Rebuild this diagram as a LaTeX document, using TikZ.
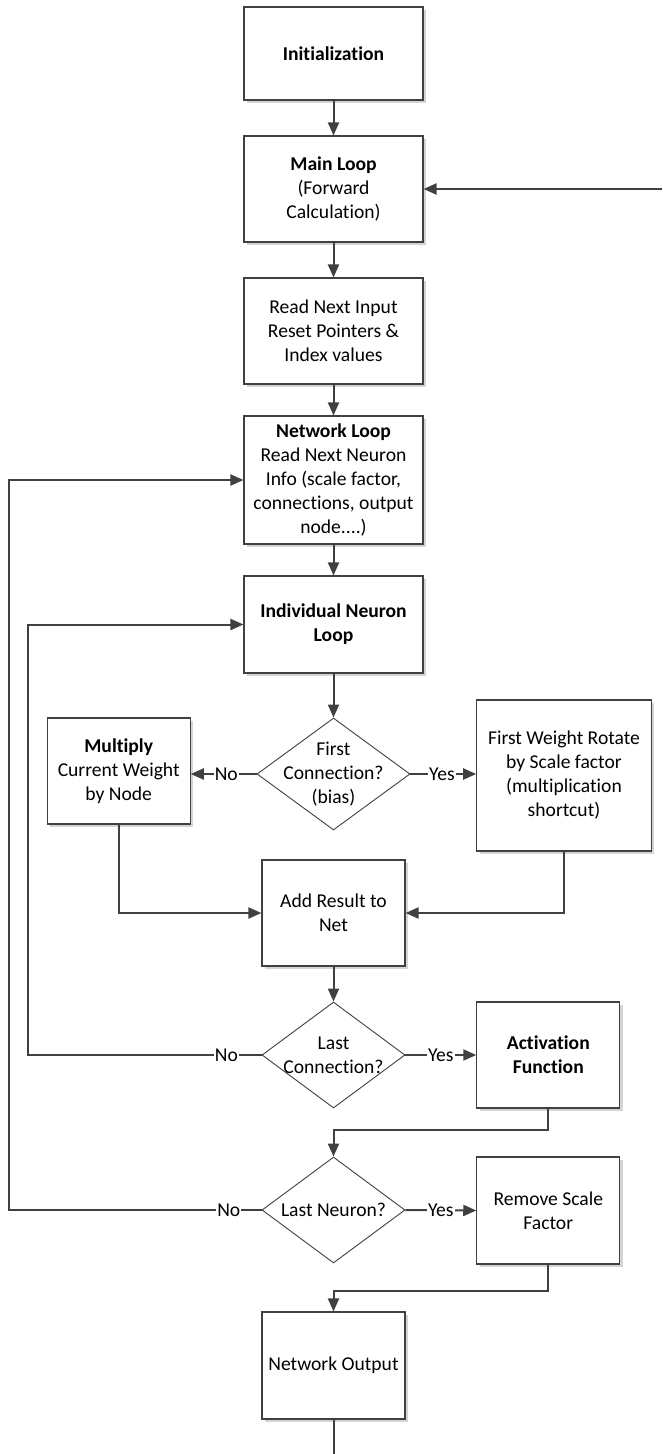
\documentclass[tikz,border=0pt]{standalone}
\usepackage{fontspec}
\setmainfont{Carlito}[Ligatures=NoCommon]
\usetikzlibrary{arrows.meta,shapes.geometric,shadows}
\definecolor{linegray}{HTML}{404040}
\definecolor{shadowgray}{HTML}{D4D4D4}
\begin{document}
\begin{tikzpicture}[x=1pt,y=-1pt,
  every node/.style={font=\fontsize{19.6}{24}\selectfont, align=center, text=black},
  procbox/.style={draw=linegray, line width=1.1pt, fill=white, inner sep=0pt,
    general shadow={fill=shadowgray, shadow xshift=3pt, shadow yshift=-3pt}},
  decision/.style={diamond, draw=linegray, line width=0.9pt, fill=white, inner sep=0pt, aspect=1.3},
  flow/.style={draw=linegray, line width=2pt, -{Triangle[length=13pt,width=11pt]}},
  plain/.style={draw=linegray, line width=2pt},
  lbl/.style={fill=white, inner sep=1pt}]
\useasboundingbox (0,0) rectangle (662,1454);

% main column of process boxes
\node[procbox, minimum width=179pt, minimum height=93pt] (init) at (333.5,53.5) {\textbf{Initialization}};
\node[procbox, minimum width=179pt, minimum height=106pt] (main) at (333.5,189) {\textbf{Main Loop}\\(Forward\\Calculation)};
\node[procbox, minimum width=179pt, minimum height=106pt] (read) at (333.5,331) {Read Next Input\\Reset Pointers \&\\Index values};
\node[procbox, minimum width=179pt, minimum height=128pt] (net) at (333.5,480) {\textbf{Network Loop}\\Read Next Neuron\\Info (scale factor,\\connections, output\\node....)};
\node[procbox, minimum width=179pt, minimum height=97pt] (ind) at (333.5,624.5) {\textbf{Individual Neuron}\\\textbf{Loop}};

% first-connection branch
\node[decision, minimum width=153pt, minimum height=112pt] (fc) at (333.5,774) {};
\node at (fc.center) {First\\Connection?\\(bias)};
\node[procbox, minimum width=143pt, minimum height=106pt] (mult) at (118.7,771) {\textbf{Multiply}\\Current Weight\\by Node};
\node[procbox, minimum width=174.5pt, minimum height=151pt] (fw) at (564,775.5) {First Weight Rotate\\by Scale factor\\(multiplication\\shortcut)};
\node[procbox, minimum width=143pt, minimum height=106pt] (add) at (333.5,913) {Add Result to\\Net};

% last-connection branch
\node[decision, minimum width=143pt, minimum height=106pt] (lc) at (333.5,1055) {};
\node at (lc.center) {Last\\Connection?};
\node[procbox, minimum width=143pt, minimum height=106pt] (act) at (548.3,1055) {\textbf{Activation}\\\textbf{Function}};

% last-neuron branch
\node[decision, minimum width=143pt, minimum height=106pt] (lnd) at (333.5,1210) {};
\node at (lnd.center) {Last Neuron?};
\node[procbox, minimum width=143pt, minimum height=107pt] (rem) at (548.3,1210.5) {Remove Scale\\Factor};
\node[procbox, minimum width=143pt, minimum height=107pt] (out) at (333.5,1365.5) {Network Output};

% free ends and loop corners
\coordinate (feedin) at (662,189);
\coordinate (outend) at (333.5,1454);
\coordinate (inner) at (27.8,1055);
\coordinate (outer) at (9.3,1210);

% straight flow
\draw[flow] (init) -- (main);
\draw[flow] (main) -- (read);
\draw[flow] (read) -- (net);
\draw[flow] (net) -- (ind);
\draw[flow] (ind) -- (fc);
\draw[flow] (add) -- (lc);
\draw[flow] (feedin) -- (main.east);

% decisions
\draw[flow] (fc.west) -- node[lbl, pos=0.46] {No} (fc.west -| mult.east);
\draw[flow] (fc.east) -- node[lbl, pos=0.48] {Yes} (fc.east -| fw.west);
\draw[flow] (mult.south) |- (add.west);
\draw[flow] (fw.south) |- (add.east);
\draw[flow] (lc.east) -- node[lbl, pos=0.5] {Yes} (act.west);
\draw[flow] (lc.west) -- node[lbl, pos=0.15] {No} (inner) |- (ind.west);
\draw[flow] (act.south) -- ++(0,21) -| (lnd.north);
\draw[flow] (lnd.east) -- node[lbl, pos=0.5] {Yes} (rem.west);
\draw[flow] (lnd.west) -- node[lbl, pos=0.13] {No} (outer) |- (net.west);
\draw[flow] (rem.south) -- ++(0,26) -| (out.north);
\draw[plain] (out.south) -- (outend);
\end{tikzpicture}
\end{document}
